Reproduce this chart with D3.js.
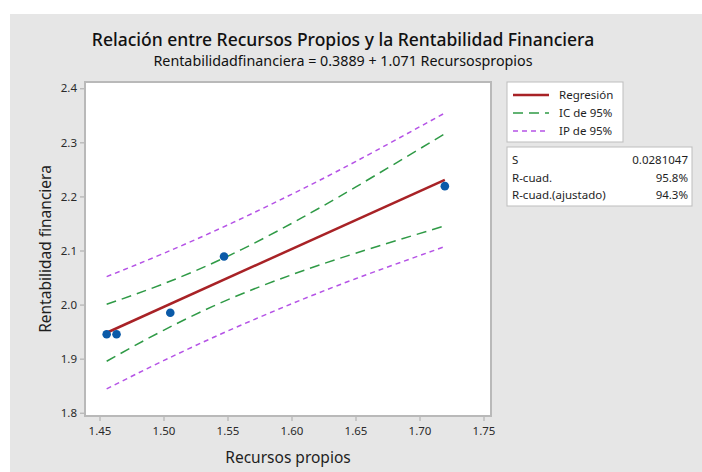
<!DOCTYPE html>
<html>
<head>
<meta charset="utf-8">
<script src="https://cdn.jsdelivr.net/npm/d3@7"></script>
<style>
  html, body { margin: 0; padding: 0; background: #ffffff; }
  svg text { font-family: "Segoe UI", "Noto Sans", "Open Sans", sans-serif; fill: #1e1e1e; }
</style>
</head>
<body>
<svg id="chart" width="702" height="472"></svg>
<script>
// Observations
const recursosPropios = [1.4556, 1.4633, 1.5053, 1.5473, 1.7198];
const rentabilidad    = [1.945, 1.945, 1.985, 2.089, 2.219];

// Fitted equation
const intercept = 0.3889;
const slope = 1.071;

// Confidence / prediction bands sampled along the fitted range
const bandX   = [1.4556, 1.50, 1.55, 1.60, 1.65, 1.7198];
const icLower = [1.8952, 1.9524, 2.0087, 2.0550, 2.0949, 2.1456];
const icUpper = [2.0005, 2.0384, 2.0892, 2.1500, 2.2172, 2.3160];
const ipLower = [1.8441, 1.8962, 1.9509, 2.0013, 2.0477, 2.1073];
const ipUpper = [2.0516, 2.0946, 2.1470, 2.2038, 2.2644, 2.3543];

// Axis ticks
const xTicks = [1.45, 1.50, 1.55, 1.60, 1.65, 1.70, 1.75];
const yTicks = [1.8, 1.9, 2.0, 2.1, 2.2, 2.3, 2.4];

// Summary table
const statNames  = ["S", "R-cuad.", "R-cuad.(ajustado)"];
const statValues = ["0.0281047", "95.8%", "94.3%"];

// Legend
const legendLabels = ["Regresión", "IC de 95%", "IP de 95%"];

const svg = d3.select("#chart");
const W = 702, H = 472;

// page background
svg.append("rect").attr("x", 10).attr("y", 14).attr("width", W - 10).attr("height", H - 14)
  .attr("fill", "#e6e6e6");

const frame = { left: 85, right: 491, top: 82, bottom: 416 };
const x = d3.scaleLinear().domain([1.45, 1.75]).range([99.5, 483.5]);
const y = d3.scaleLinear().domain([1.8, 2.4]).range([412.7, 88.3]);

// plot area
svg.append("rect")
  .attr("x", frame.left).attr("y", frame.top)
  .attr("width", frame.right - frame.left).attr("height", frame.bottom - frame.top)
  .attr("fill", "#ffffff").attr("stroke", "#b9b9b9").attr("stroke-width", 2);

// axes
const xAxis = svg.append("g").attr("transform", `translate(0,${frame.bottom + 1})`)
  .call(d3.axisBottom(x).tickValues(xTicks).tickFormat(d3.format(".2f")).tickSize(4).tickPadding(6));
const yAxis = svg.append("g").attr("transform", `translate(${frame.left - 1},0)`)
  .call(d3.axisLeft(y).tickValues(yTicks).tickFormat(d3.format(".1f")).tickSize(4).tickPadding(3));
[xAxis, yAxis].forEach(g => {
  g.select(".domain").remove();
  g.selectAll(".tick line").attr("stroke", "#a8a8a8");
  g.selectAll(".tick text").attr("font-size", 11.5).style("fill", "#2a2a2a");
});

// bands
const band = arr => d3.line()
  .x((d, i) => x(bandX[i])).y(d => y(d)).curve(d3.curveNatural)(arr);

const pi = "#b553e6", ic = "#2f9a46", reg = "#a82226";
[ipUpper, ipLower].forEach(a => svg.append("path").attr("d", band(a))
  .attr("fill", "none").attr("stroke", pi).attr("stroke-width", 1.5).attr("stroke-dasharray", "5,4"));
[icUpper, icLower].forEach(a => svg.append("path").attr("d", band(a))
  .attr("fill", "none").attr("stroke", ic).attr("stroke-width", 1.5).attr("stroke-dasharray", "10,6"));

// fitted line across the observed range
const xr = d3.extent(recursosPropios);
svg.append("line")
  .attr("x1", x(xr[0])).attr("y1", y(intercept + slope * xr[0]))
  .attr("x2", x(xr[1])).attr("y2", y(intercept + slope * xr[1]))
  .attr("stroke", reg).attr("stroke-width", 2.5);

// points
svg.selectAll("circle.obs").data(recursosPropios).join("circle")
  .attr("class", "obs")
  .attr("cx", d => x(d)).attr("cy", (d, i) => y(rentabilidad[i]))
  .attr("r", 4.3).attr("fill", "#0b5aa8");

// titles
svg.append("text").attr("x", 343).attr("y", 46).attr("text-anchor", "middle")
  .attr("font-size", 17.5).attr("font-weight", 500).style("fill", "#111")
  .text("Relación entre Recursos Propios y la Rentabilidad Financiera");
svg.append("text").attr("x", 343).attr("y", 66).attr("text-anchor", "middle")
  .attr("font-size", 14.3).style("fill", "#111")
  .text(`Rentabilidadfinanciera = ${intercept} + ${slope} Recursospropios`);

svg.append("text").attr("x", 288).attr("y", 463).attr("text-anchor", "middle")
  .attr("font-size", 15.5).text("Recursos propios");
svg.append("text").attr("transform", `translate(51,${(frame.top + frame.bottom) / 2}) rotate(-90)`)
  .attr("text-anchor", "middle").attr("font-size", 15.5).text("Rentabilidad financiera");

// legend
const lg = svg.append("g");
lg.append("rect").attr("x", 507).attr("y", 82).attr("width", 116).attr("height", 60)
  .attr("fill", "#fff").attr("stroke", "#bdbdbd").attr("stroke-width", 1);
const lgStyles = [
  { c: reg, w: 2.5, dash: null },
  { c: ic, w: 1.5, dash: "10,6" },
  { c: pi, w: 1.5, dash: "5,4" }
];
legendLabels.forEach((t, i) => {
  const yy = 95 + i * 18;
  lg.append("line").attr("x1", 513).attr("x2", 549).attr("y1", yy).attr("y2", yy)
    .attr("stroke", lgStyles[i].c).attr("stroke-width", lgStyles[i].w)
    .attr("stroke-dasharray", lgStyles[i].dash);
  lg.append("text").attr("x", 559).attr("y", yy + 4).attr("font-size", 11.5).text(t);
});

// summary table
const st = svg.append("g");
st.append("rect").attr("x", 507).attr("y", 147).attr("width", 185).attr("height", 59)
  .attr("fill", "#fff").attr("stroke", "#bdbdbd").attr("stroke-width", 1);
statNames.forEach((t, i) => {
  const yy = 164 + i * 17.5;
  st.append("text").attr("x", 512).attr("y", yy).attr("font-size", 11.5).text(t);
  st.append("text").attr("x", 688).attr("y", yy).attr("font-size", 11.5)
    .attr("text-anchor", "end").text(statValues[i]);
});
</script>
</body>
</html>
